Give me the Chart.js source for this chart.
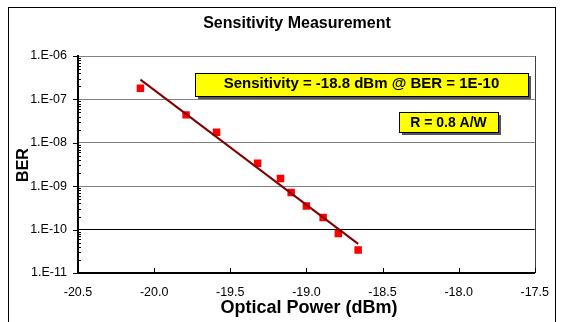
<!DOCTYPE html>
<html>
<head>
<meta charset="utf-8">
<script src="https://cdn.jsdelivr.net/npm/chart.js@4"></script>
<style>
  html, body { margin: 0; background: #fff; }
  #wrap { width: 561px; height: 322px; }
</style>
</head>
<body>
<div id="wrap"><canvas id="c"></canvas></div>
<script>
const powerDbm = [-20.09, -19.79, -19.59, -19.32, -19.17, -19.10, -19.00, -18.89, -18.79, -18.66];
const berValues = [1.8e-7, 4.4e-8, 1.75e-8, 3.4e-9, 1.5e-9, 7.2e-10, 3.5e-10, 1.9e-10, 8.1e-11, 3.4e-11];
const fitPower = [-20.09, -18.66];
const fitBer = [2.85e-7, 4.7e-11];
const xTicks = [-20.5, -20.0, -19.5, -19.0, -18.5, -18.0, -17.5];
const yTicks = [1e-11, 1e-10, 1e-9, 1e-8, 1e-7, 1e-6];

const FONT = 'Arial, "Liberation Sans", sans-serif';

function noteBox(ctx, x, y, w, h, text, size, baseline) {
  ctx.fillStyle = "#555";
  ctx.fillRect(x + 3, y + 3, w, h);
  ctx.fillStyle = "#ffff00";
  ctx.fillRect(x, y, w, h);
  ctx.strokeStyle = "#000";
  ctx.lineWidth = 1;
  ctx.strokeRect(x + 0.5, y + 0.5, w, h);
  ctx.fillStyle = "#000";
  ctx.font = "bold " + size + "px " + FONT;
  ctx.textAlign = "center";
  ctx.textBaseline = "alphabetic";
  ctx.fillText(text, x + w / 2, baseline);
}

const decor = {
  id: "decor",
  beforeDraw(chart) {
    const { ctx, width, height } = chart;
    ctx.save();
    ctx.fillStyle = "#fff";
    ctx.fillRect(0, 0, width, height);
    ctx.strokeStyle = "#000";
    ctx.lineWidth = 1;
    ctx.strokeRect(8.5, 7.5, 547, height + 10);
    ctx.restore();
  },
  afterDraw(chart) {
    const { ctx, chartArea: a, scales } = chart;
    const x = scales.x, y = scales.y;
    ctx.save();

    // right edge of plot
    ctx.strokeStyle = "#404040";
    ctx.lineWidth = 1;
    ctx.beginPath();
    ctx.moveTo(Math.round(a.right) + 0.5, a.top);
    ctx.lineTo(Math.round(a.right) + 0.5, a.bottom);
    ctx.stroke();

    // tick marks
    ctx.strokeStyle = "#000";
    ctx.beginPath();
    xTicks.forEach(v => {
      const px = Math.round(x.getPixelForValue(v)) + 0.5;
      ctx.moveTo(px, a.bottom);
      ctx.lineTo(px, a.bottom - 5);
    });
    yTicks.forEach(v => {
      const py = Math.round(y.getPixelForValue(v)) + 0.5;
      ctx.moveTo(a.left - 5, py);
      ctx.lineTo(a.left, py);
    });
    for (let e = -11; e < -6; e++) {
      for (let k = 2; k <= 9; k++) {
        const py = Math.round(y.getPixelForValue(k * Math.pow(10, e))) + 0.5;
        ctx.moveTo(a.left, py);
        ctx.lineTo(a.left + 3, py);
      }
    }
    ctx.stroke();

    // titles
    ctx.fillStyle = "#000";
    ctx.textAlign = "center";
    ctx.textBaseline = "alphabetic";
    ctx.font = "bold 16px " + FONT;
    ctx.fillText("Sensitivity Measurement", 297, 28);
    ctx.font = "bold 18px " + FONT;
    ctx.fillText("Optical Power (dBm)", 309, 313);
    ctx.save();
    ctx.translate(28, 165);
    ctx.rotate(-Math.PI / 2);
    ctx.font = "bold 16px " + FONT;
    ctx.fillText("BER", 0, 0);
    ctx.restore();

    noteBox(ctx, 195, 73, 333, 23, "Sensitivity = -18.8 dBm @ BER = 1E-10", 15, 88);
    noteBox(ctx, 399, 112, 99, 20, "R = 0.8 A/W", 14, 127);
    ctx.restore();
  }
};

new Chart(document.getElementById("c"), {
  type: "scatter",
  data: {
    datasets: [
      {
        type: "line",
        data: fitPower.map((p, i) => ({ x: p, y: fitBer[i] })),
        borderColor: "#800000",
        borderWidth: 2,
        pointRadius: 0,
        fill: false
      },
      {
        data: powerDbm.map((p, i) => ({ x: p, y: berValues[i] })),
        pointStyle: "rect",
        pointRadius: 5.3,
        backgroundColor: "#ff0000",
        borderWidth: 0
      }
    ]
  },
  options: {
    responsive: true,
    maintainAspectRatio: false,
    animation: false,
    layout: { padding: { left: 0, top: 56, right: 21, bottom: 0 } },
    plugins: {
      legend: { display: false },
      title: { display: false },
      tooltip: { enabled: false }
    },
    scales: {
      x: {
        type: "linear",
        min: -20.5,
        max: -17.5,
        afterBuildTicks: s => { s.ticks = xTicks.map(v => ({ value: v })); },
        afterFit: s => { s.height = 49; },
        ticks: {
          color: "#000",
          font: { family: FONT, size: 12.5 },
          padding: 12,
          maxRotation: 0,
          callback: v => Number(v).toFixed(1)
        },
        grid: { drawOnChartArea: false, drawTicks: false },
        border: { color: "#000", width: 2 }
      },
      y: {
        type: "logarithmic",
        min: 1e-11,
        max: 1e-6,
        afterBuildTicks: s => { s.ticks = yTicks.map(v => ({ value: v })); },
        afterFit: s => { s.width = 78; },
        ticks: {
          color: "#000",
          font: { family: FONT, size: 12.5 },
          padding: 11,
          autoSkip: false,
          callback: v => "1.E-" + String(Math.round(-Math.log10(v))).padStart(2, "0")
        },
        grid: {
          drawTicks: false,
          color: c => (c.tick && Math.abs(Math.log10(c.tick.value) + 10) < 1e-6) ? "#000" : "#808080"
        },
        border: { color: "#000", width: 2 }
      }
    }
  },
  plugins: [decor]
});
</script>
</body>
</html>
